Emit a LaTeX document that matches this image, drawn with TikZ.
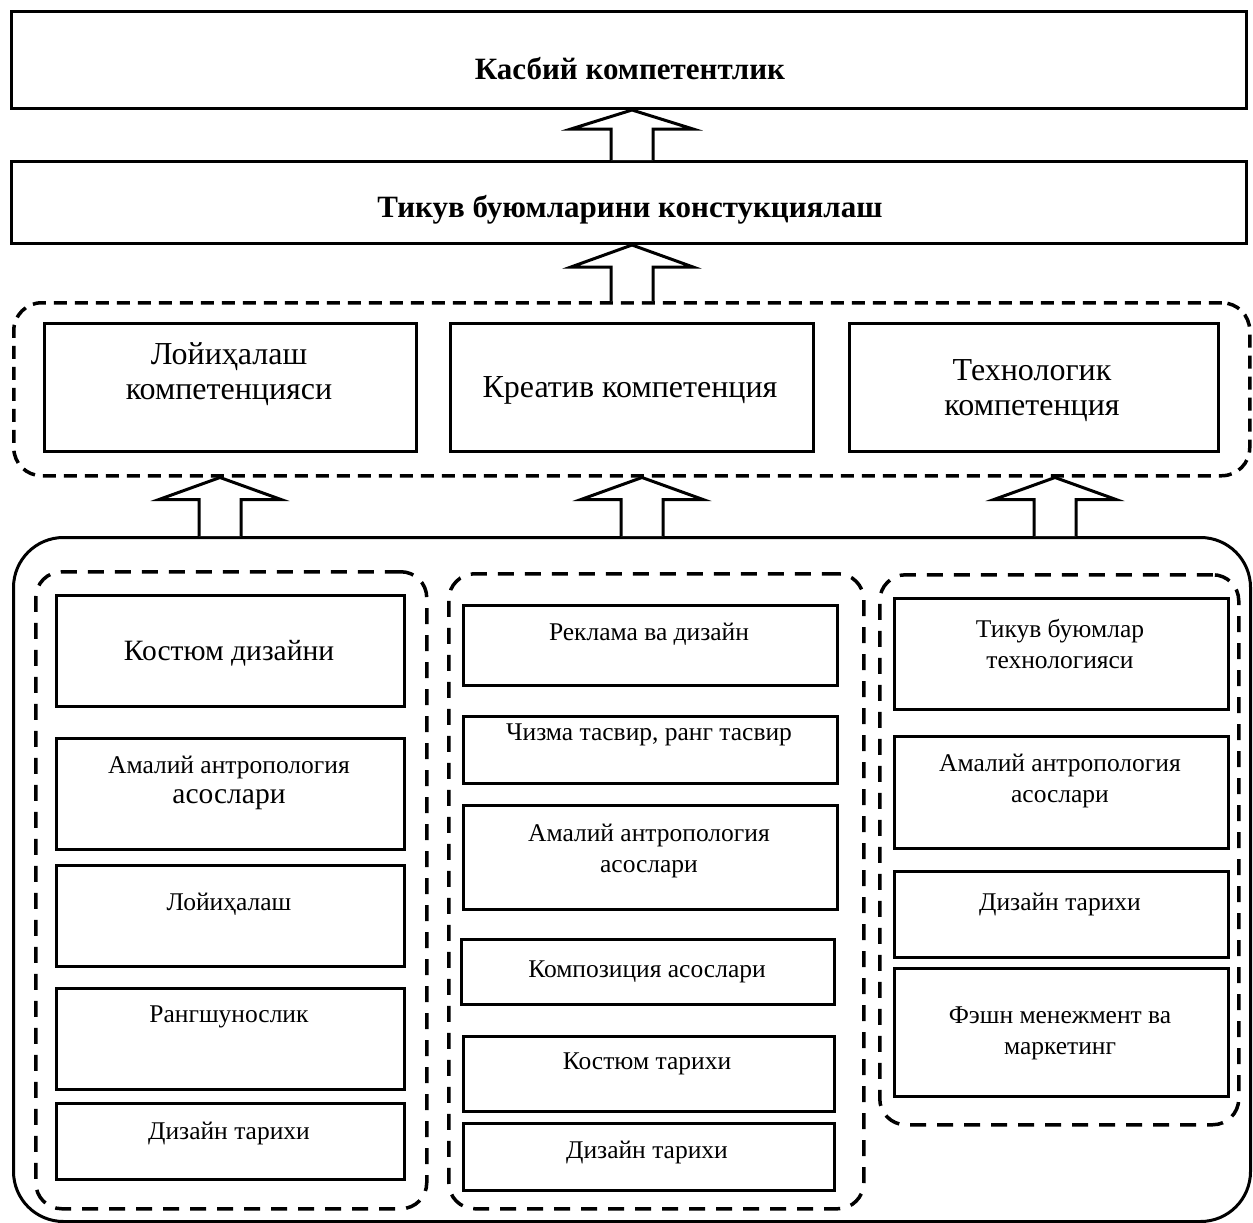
\documentclass[tikz,border=0pt]{standalone}
\usepackage{fontspec}
\setmainfont{Liberation Serif}
\usetikzlibrary{calc}
\tikzset{
  solidbox/.style={draw, line width=3pt, inner sep=0pt, anchor=north west},
  dashbox/.style={draw, line width=3.5pt, dash pattern=on 13pt off 8pt, inner sep=0pt, anchor=north west},
  dashgroup/.style={draw, line width=3.5pt, dash pattern=on 16pt off 11pt, inner sep=0pt, anchor=north west, rounded corners=26pt},
  bigbox/.style={draw, line width=3pt, inner sep=0pt, anchor=north west, rounded corners=50pt},
  blk/.style={draw, line width=3pt, fill=white, line join=miter},
  title/.style={font=\fontsize{31}{36}\selectfont\bfseries, align=center},
  comp/.style={font=\fontsize{32}{35}\selectfont, align=center},
  item/.style={font=\fontsize{25.5}{31}\selectfont, align=center},
  itembig/.style={font=\fontsize{29.5}{32}\selectfont, align=center},
}
\newcommand\bx[6]{\node[#1, minimum width={(#5-#3)*1pt}, minimum height={(#6-#4)*1pt}] (#2) at (#3,#4) {};}
\newcommand\blkarrow[3]{% #1 tip, #2 base, #3 head length
  \draw[blk] let \p1=#1, \p2=#2 in
    (\x1-21pt,\y2) -- (\x1-21pt,\y1-#3) -- (\x1-61pt,\y1-#3) -- (\x1,\y1)
    -- (\x1+61pt,\y1-#3) -- (\x1+21pt,\y1-#3) -- (\x1+21pt,\y2);}
\begin{document}
\begin{tikzpicture}[x=1pt,y=-1pt]
\useasboundingbox (0,0) rectangle (1253,1223);
% top boxes
\bx{solidbox}{top}{10}{10}{1245}{107}
\node[title] (ttop) at (630,69) {Касбий компетентлик};
\bx{solidbox}{mid}{10}{160}{1245}{242}
\node[title] (tmid) at (630,210) {Тикув буюмларини констукциялаш};
% competences group
\bx{dashbox, rounded corners=28pt}{grp}{12}{301}{1248}{474}
\bx{solidbox}{c1}{43}{322}{415}{450}
\bx{solidbox}{c2}{449}{322}{812}{450}
\bx{solidbox}{c3}{848}{322}{1217}{450}
\node[comp] (tc1) at (229,374) {Лойиҳалаш\\компетенцияси};
\node[comp] (tc2) at (630,390) {Креатив компетенция};
\node[comp] (tc3) at (1032,391) {Технологик\\компетенция};
% big container
\bx{bigbox}{big}{12}{536}{1249}{1220}
% column groups
\bx{dashgroup}{gl}{34}{570}{425}{1207}
\bx{dashgroup}{gm}{447}{572}{862}{1207}
\bx{dashgroup}{gr}{878}{573}{1237}{1123}
% left column
\bx{solidbox}{l1}{55}{594}{403}{705}
\bx{solidbox}{l2}{55}{737}{403}{848}
\bx{solidbox}{l3}{55}{864}{403}{965}
\bx{solidbox}{l4}{55}{987}{403}{1088}
\bx{solidbox}{l5}{55}{1102}{403}{1178}
\node[itembig] (tl1) at (229,653) {Костюм дизайни};
\node[item] (tl2a) at (229,767) {Амалий антропология};
\node[itembig] (tl2b) at (229,800) {асослари};
\node[item] (tl3) at (229,904) {Лойиҳалаш};
\node[item] (tl4) at (229,1017) {Рангшунослик};
\node[item] (tl5) at (229,1133) {Дизайн тарихи};
% middle column
\bx{solidbox}{m1}{462}{604}{836}{684}
\bx{solidbox}{m2}{462}{715}{836}{782}
\bx{solidbox}{m3}{462}{804}{836}{908}
\bx{solidbox}{m4}{460}{938}{833}{1003}
\bx{solidbox}{m5}{462}{1035}{833}{1110}
\bx{solidbox}{m6}{462}{1122}{833}{1189}
\node[item] (tm1) at (649,634) {Реклама ва дизайн};
\node[item] (tm2) at (649,735) {Чизма тасвир, ранг тасвир};
\node[item] (tm3) at (649,851) {Амалий антропология\\асослари};
\node[item] (tm4) at (647,972) {Композиция асослари};
\node[item] (tm5) at (647,1064) {Костюм тарихи};
\node[item] (tm6) at (647,1152) {Дизайн тарихи};
% right column
\bx{solidbox}{r1}{893}{597}{1227}{708}
\bx{solidbox}{r2}{893}{735}{1227}{847}
\bx{solidbox}{r3}{893}{870}{1227}{956}
\bx{solidbox}{r4}{893}{967}{1227}{1095}
\node[item] (tr1) at (1060,644) {Тикув буюмлар\\технологияси};
\node[item] (tr2) at (1060,781) {Амалий антропология\\асослари};
\node[item] (tr3) at (1060,904) {Дизайн тарихи};
\node[item] (tr4) at (1060,1033) {Фэшн менежмент ва\\маркетинг};
% arrows
\coordinate (ax1) at (632,0);
\coordinate (ax2) at (220,0);
\coordinate (ax3) at (642,0);
\coordinate (ax4) at (1055,0);
\blkarrow{(top.south -| ax1)}{(mid.north -| ax1)}{19pt}
\blkarrow{(mid.south -| ax1)}{(grp.north -| ax1)}{22pt}
\blkarrow{(grp.south -| ax2)}{(big.north -| ax2)}{22pt}
\blkarrow{(grp.south -| ax3)}{(big.north -| ax3)}{22pt}
\blkarrow{(grp.south -| ax4)}{(big.north -| ax4)}{22pt}
\end{tikzpicture}
\end{document}
